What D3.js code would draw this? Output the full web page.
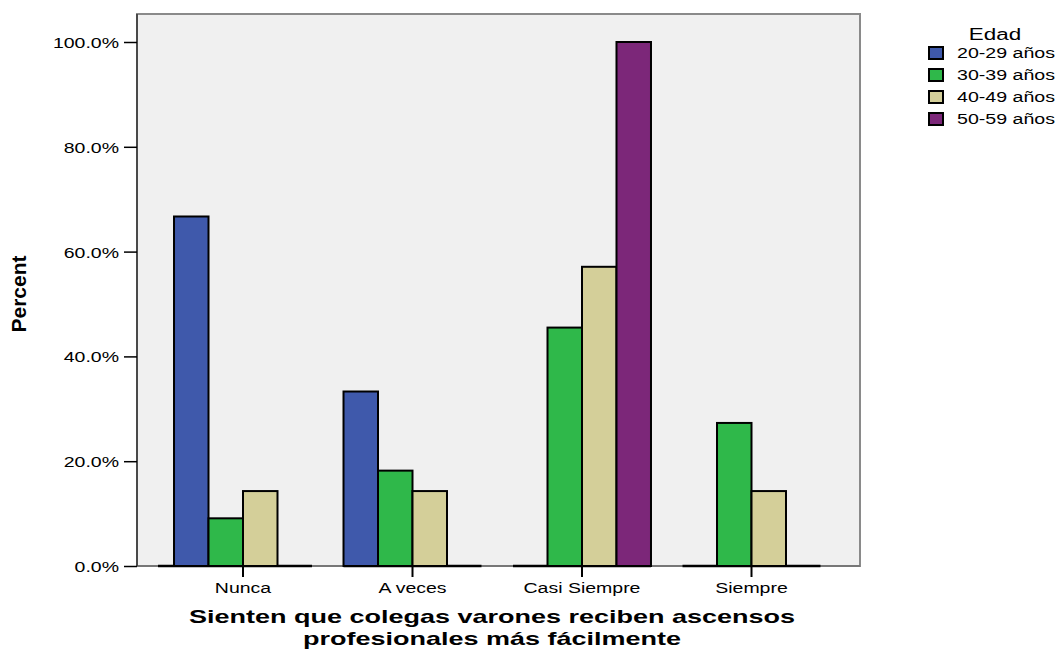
<!DOCTYPE html>
<html>
<head>
<meta charset="utf-8">
<script src="https://cdn.jsdelivr.net/npm/d3@7"></script>
<style>
  html, body { margin: 0; padding: 0; background: #fff; }
  svg { display: block; }
  text { font-family: "Liberation Sans", Arial, Helvetica, sans-serif; fill: #000; }
</style>
</head>
<body>
<svg id="chart" width="1058" height="649"></svg>
<script>
// ---- data ----
const categories = ["Nunca", "A veces", "Casi Siempre", "Siempre"];
const seriesNames = ["20-29 años", "30-39 años", "40-49 años", "50-59 años"];
const values2029 = [66.7, 33.3, null, null];
const values3039 = [9.1, 18.2, 45.5, 27.3];
const values4049 = [14.3, 14.3, 57.1, 14.3];
const values5059 = [null, null, 100.0, null];
const seriesColors = ["#3f59ab", "#2fb84a", "#d4cf99", "#7c2779"];
const yTicks = [0, 20, 40, 60, 80, 100];
const xTitleLines = ["Sienten que colegas varones reciben ascensos", "profesionales más fácilmente"];
const yTitle = "Percent";
const legendTitle = "Edad";

const seriesValues = [values2029, values3039, values4049, values5059];

// ---- layout ----
const svg = d3.select("#chart");
const plot = { left: 137, right: 860, top: 14, bottom: 566 };

const x0 = d3.scaleBand()
  .domain(categories)
  .range([158.25, 836.25])
  .paddingInner(0.186)
  .paddingOuter(0.093);

const x1 = d3.scaleBand()
  .domain(seriesNames)
  .range([0, x0.bandwidth()]);

const y = d3.scaleLinear().domain([0, 100]).range([plot.bottom, 42]);

// plot background / frame
svg.append("rect")
  .attr("x", plot.left).attr("y", plot.top)
  .attr("width", plot.right - plot.left).attr("height", plot.bottom - plot.top)
  .attr("fill", "#f0f0f0").attr("stroke", "#8a8a8a").attr("stroke-width", 2);

// bars
const rows = [];
categories.forEach((c, ci) => {
  seriesNames.forEach((s, si) => {
    const v = seriesValues[si][ci];
    if (v !== null && v !== undefined) rows.push({ c, s, si, v });
  });
});

// bottom baseline (gray across, black under each category group)
svg.append("line")
  .attr("x1", plot.left).attr("x2", plot.right)
  .attr("y1", plot.bottom).attr("y2", plot.bottom)
  .attr("stroke", "#777").attr("stroke-width", 2);
svg.append("g").selectAll("line").data(categories).join("line")
  .attr("x1", d => x0(d) - (d === categories[0] ? 16 : 0))
  .attr("x2", d => x0(d) + x0.bandwidth())
  .attr("y1", plot.bottom).attr("y2", plot.bottom)
  .attr("stroke", "#000").attr("stroke-width", 2.5);

svg.append("g").selectAll("rect").data(rows).join("rect")
  .attr("x", d => x0(d.c) + x1(d.s))
  .attr("y", d => y(d.v))
  .attr("width", x1.bandwidth())
  .attr("height", d => y(0) - y(d.v))
  .attr("fill", d => seriesColors[d.si])
  .attr("stroke", "#000")
  .attr("stroke-width", 2);

// left axis line
svg.append("line")
  .attr("x1", plot.left).attr("x2", plot.left)
  .attr("y1", plot.top).attr("y2", plot.bottom)
  .attr("stroke", "#333").attr("stroke-width", 1.5);

// y axis
const yAxis = svg.append("g")
  .attr("transform", `translate(${plot.left},0)`)
  .call(d3.axisLeft(y).tickValues(yTicks).tickFormat(d => d.toFixed(1) + "%").tickSize(13));
yAxis.select(".domain").remove();
yAxis.selectAll(".tick line").attr("stroke", "#000").attr("stroke-width", 1.5);
yAxis.selectAll(".tick text")
  .attr("x", 0)
  .attr("dy", "0.36em")
  .attr("font-size", 15)
  .attr("font-family", "Liberation Sans, Arial, sans-serif")
  .attr("transform", "translate(-18,0) scale(1.3,1)");

// x axis
const xAxis = svg.append("g")
  .attr("transform", `translate(0,${plot.bottom})`)
  .call(d3.axisBottom(x0).tickSize(11));
xAxis.select(".domain").remove();
xAxis.selectAll(".tick line").attr("stroke", "#000").attr("stroke-width", 2);
xAxis.selectAll(".tick text")
  .attr("y", 0)
  .attr("dy", null)
  .attr("font-size", 15)
  .attr("font-family", "Liberation Sans, Arial, sans-serif")
  .attr("transform", "translate(0,27) scale(1.3,1)");

// x title
svg.append("g").selectAll("text").data(xTitleLines).join("text")
  .attr("transform", (d, i) => `translate(492,${623 + i * 22}) scale(1.5,1)`)
  .attr("text-anchor", "middle")
  .attr("font-size", 18)
  .attr("font-weight", "bold")
  .text(d => d);

// y title
svg.append("text")
  .attr("transform", "translate(26,294) rotate(-90)")
  .attr("text-anchor", "middle")
  .attr("font-size", 21)
  .attr("font-weight", "bold")
  .text(yTitle);

// legend
const legend = svg.append("g");
legend.append("text")
  .attr("text-anchor", "middle")
  .attr("font-size", 16)
  .attr("transform", "translate(995,40) scale(1.4,1)")
  .text(legendTitle);
const items = legend.selectAll("g.item").data(seriesNames).join("g")
  .attr("class", "item")
  .attr("transform", (d, i) => `translate(0,${53 + i * 22})`);
items.append("rect")
  .attr("x", 929).attr("y", -6)
  .attr("width", 14).attr("height", 12)
  .attr("fill", (d, i) => seriesColors[i])
  .attr("stroke", "#000").attr("stroke-width", 2);
items.append("text")
  .attr("transform", "translate(957,5) scale(1.4,1)")
  .attr("font-size", 14)
  .text(d => d);
</script>
</body>
</html>
